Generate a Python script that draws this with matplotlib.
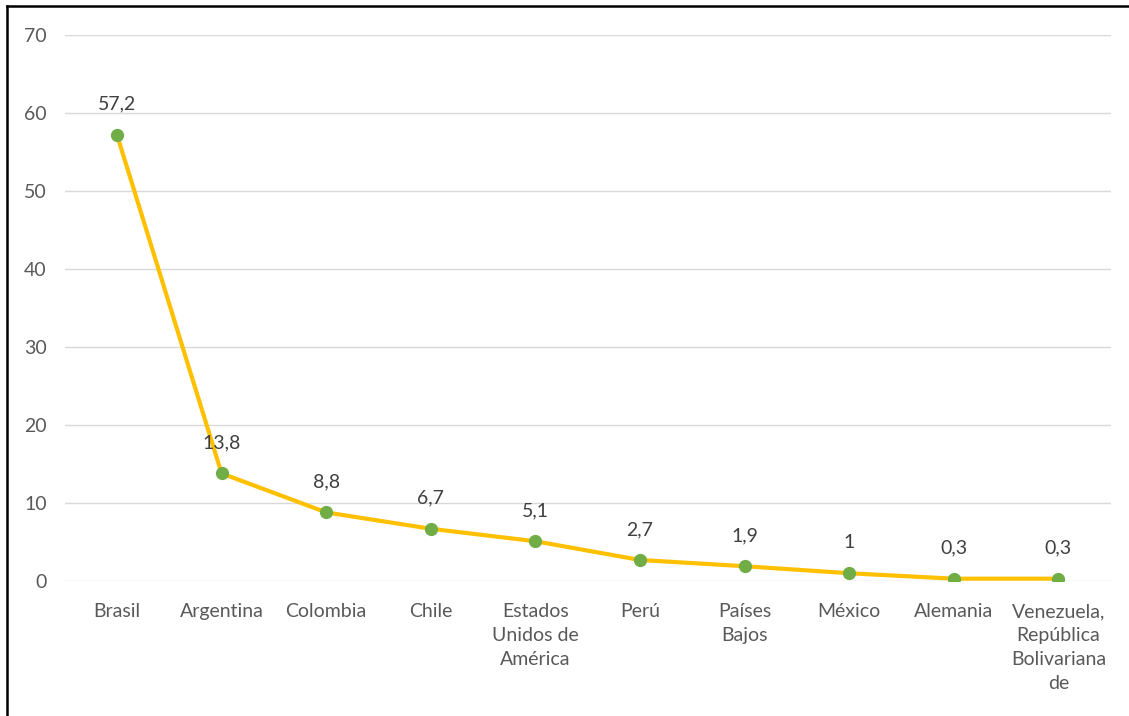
import matplotlib
matplotlib.use("Agg")
import matplotlib.pyplot as plt
from matplotlib.lines import Line2D

# ---------- datos ----------
paises = ["Brasil", "Argentina", "Colombia", "Chile", "Estados\nUnidos de\nAmérica",
          "Perú", "Países\nBajos", "México", "Alemania",
          "Venezuela,\nRepública\nBolivariana\nde"]
valores = [57.2, 13.8, 8.8, 6.7, 5.1, 2.7, 1.9, 1.0, 0.3, 0.3]
etiquetas = ["57,2", "13,8", "8,8", "6,7", "5,1", "2,7", "1,9", "1", "0,3", "0,3"]
yticks = [0, 10, 20, 30, 40, 50, 60, 70]

plt.rcParams['font.family'] = ['Lato', 'DejaVu Sans']

fig = plt.figure(figsize=(11.29, 7.16), dpi=100)
ax = fig.add_axes([0.0573, 0.1885, 0.9265, 0.7626])

x = list(range(len(paises)))
ax.plot(x, valores, color="#FFC000", linewidth=3.0, zorder=3,
        marker="o", markersize=8.5, markerfacecolor="#70AD47",
        markeredgecolor="#70AD47")

for xi, v, t in zip(x, valores, etiquetas):
    ax.annotate(t, (xi, v), xytext=(0, 22), textcoords="offset points",
                ha="center", va="center", fontsize=14, color="#404040")

ax.set_xlim(-0.5, len(paises) - 0.5)
ax.set_ylim(0, 70)
ax.set_yticks(yticks)
ax.set_yticklabels([str(v) for v in yticks])
ax.set_xticks(x)
ax.set_xticklabels(paises, linespacing=1.5)
ax.tick_params(axis="both", length=0, labelsize=14, labelcolor="#595959")
ax.tick_params(axis="x", pad=16)
ax.tick_params(axis="y", pad=13)
ax.grid(axis="y", color="#D9D9D9", linewidth=1)
ax.set_axisbelow(True)
for s in ax.spines.values():
    s.set_visible(False)

# marco del gráfico (izquierda y arriba)
fig.add_artist(Line2D([0.0062, 0.0062], [0, 0.991], transform=fig.transFigure,
                      color="black", linewidth=1.8))
fig.add_artist(Line2D([0.0062, 1], [0.991, 0.991], transform=fig.transFigure,
                      color="black", linewidth=1.8))

plt.savefig("out.png", dpi=100)
